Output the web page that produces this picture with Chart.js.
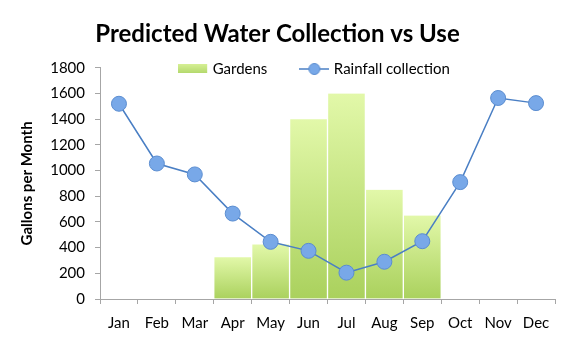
<!DOCTYPE html>
<html>
<head>
<meta charset="utf-8">
<script src="https://cdn.jsdelivr.net/npm/chart.js@4.4.1/dist/chart.umd.min.js"></script>
<style>
  html, body { margin: 0; padding: 0; background: #fff; }
  #wrap { width: 576px; height: 343px; }
</style>
</head>
<body>
<div id="wrap"><canvas id="myChart"></canvas></div>
<script>
const months = ['Jan', 'Feb', 'Mar', 'Apr', 'May', 'Jun', 'Jul', 'Aug', 'Sep', 'Oct', 'Nov', 'Dec']
const gardens = [null, null, null, 325, 425, 1400, 1600, 850, 650, null, null, null]
const rainfall = [1520, 1055, 970, 665, 445, 375, 205, 290, 450, 910, 1565, 1525]
const yMin = 0
const yMax = 1800
const yStep = 200

const font = 'Lato'
const lineBlue = '#4a7fc4'
const pointBlue = '#78a8e8'
const pointEdge = '#5b8dd0'

// each bar gets its own light-to-dark green fade, like the original
function barGradient(context) {
    const chart = context.chart
    if (!chart.chartArea || context.raw == null) return '#c3e283'
    const y = chart.scales.y
    const top = y.getPixelForValue(context.raw)
    const bottom = y.getPixelForValue(0)
    const g = chart.ctx.createLinearGradient(0, top, 0, bottom)
    g.addColorStop(0, '#e2f8a9')
    g.addColorStop(1, '#aad15d')
    return g
}

// legend icons
function gardenIcon() {
    const c = document.createElement('canvas')
    c.width = 30
    c.height = 10
    const ctx = c.getContext('2d')
    const g = ctx.createLinearGradient(0, 0, 0, 9)
    g.addColorStop(0, '#d6f095')
    g.addColorStop(1, '#b4d96d')
    ctx.fillStyle = g
    ctx.fillRect(0, 0, 29, 9)
    return c
}

function rainIcon() {
    const c = document.createElement('canvas')
    c.width = 30
    c.height = 14
    const ctx = c.getContext('2d')
    ctx.strokeStyle = lineBlue
    ctx.lineWidth = 1.5
    ctx.beginPath()
    ctx.moveTo(0, 7)
    ctx.lineTo(30, 7)
    ctx.stroke()
    ctx.beginPath()
    ctx.arc(15, 7, 5.5, 0, Math.PI * 2)
    ctx.fillStyle = pointBlue
    ctx.fill()
    ctx.lineWidth = 1
    ctx.strokeStyle = pointEdge
    ctx.stroke()
    return c
}

const icons = [gardenIcon(), rainIcon()]

// the legend sits on top of the plot, across its upper edge:
// take no layout space, then move it down after layout
const legendOverlay = {
    id: 'legendOverlay',
    beforeLayout(chart) {
        const l = chart.legend
        if (l && !l._overlay) {
            const fit = l.fit
            l.fit = function () {
                fit.call(this)
                this.height = 0
            }
            l._overlay = true
        }
    },
    afterLayout(chart) {
        const l = chart.legend
        l.top = 26.5
        l.bottom = l.top + 90
        l.left -= 12
        l.right -= 12
    },
}

const data = {
    labels: months,
    datasets: [
        {
            type: 'bar',
            label: 'Gardens',
            data: gardens,
            backgroundColor: barGradient,
            borderColor: 'rgba(255,255,255,0.35)',
            borderWidth: { left: 1, right: 1 },
            borderSkipped: 'bottom',
            barPercentage: 1,
            categoryPercentage: 1,
            order: 1,
        },
        {
            type: 'line',
            label: 'Rainfall collection',
            data: rainfall,
            borderColor: lineBlue,
            borderWidth: 1.5,
            backgroundColor: pointBlue,
            pointBackgroundColor: pointBlue,
            pointBorderColor: pointEdge,
            pointBorderWidth: 1,
            pointRadius: 7.5,
            tension: 0,
            order: 0,
        },
    ],
}

const config = {
    data: data,
    options: {
        responsive: true,
        maintainAspectRatio: false,
        animation: false,
        layout: { padding: { left: 0, right: 21, top: 0, bottom: 0 } },
        plugins: {
            title: {
                display: true,
                text: 'Predicted Water Collection vs Use',
                color: '#000',
                font: { family: font, size: 24, weight: 'bold' },
                padding: { top: 20, bottom: 19 },
            },
            legend: {
                position: 'top',
                fullSize: false,
                align: 'center',
                labels: {
                    usePointStyle: true,
                    pointStyleWidth: 24,
                    padding: 35,
                    color: '#000',
                    font: { family: font, size: 15 },
                    sort: (a, b) => a.datasetIndex - b.datasetIndex,
                    generateLabels: (chart) => {
                        const items = Chart.defaults.plugins.legend.labels.generateLabels(chart)
                        items.forEach((item) => {
                            item.pointStyle = icons[item.datasetIndex]
                        })
                        return items
                    },
                },
            },
            tooltip: { enabled: false },
        },
        scales: {
            x: {
                offset: true,
                border: { display: true, color: '#a6a6a6', width: 1 },
                grid: {
                    offset: true,
                    drawOnChartArea: false,
                    drawTicks: true,
                    tickLength: 5,
                    color: '#a6a6a6',
                },
                ticks: {
                    color: '#000',
                    padding: 10,
                    font: { family: font, size: 15 },
                    maxRotation: 0,
                },
                afterFit: (scale) => {
                    scale.height = 44
                },
            },
            y: {
                min: yMin,
                max: yMax,
                border: { display: true, color: '#a6a6a6', width: 1 },
                grid: {
                    drawOnChartArea: false,
                    drawTicks: true,
                    tickLength: 5,
                    color: '#a6a6a6',
                },
                ticks: {
                    stepSize: yStep,
                    color: '#000',
                    padding: 10,
                    font: { family: font, size: 15 },
                    callback: (value) => String(value),
                },
                title: {
                    display: true,
                    text: 'Gallons per Month',
                    color: '#000',
                    font: { family: font, size: 15, weight: 'bold' },
                    padding: { top: 18, bottom: 0 },
                },
                afterFit: (scale) => {
                    scale.width = 100
                },
            },
        },
    },
    plugins: [legendOverlay],
}

const myChart = new Chart(document.getElementById('myChart'), config)
</script>
</body>
</html>
